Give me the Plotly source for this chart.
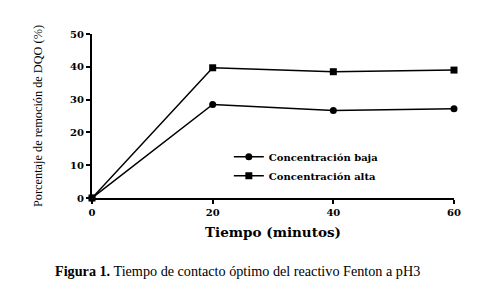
import plotly.graph_objects as go

tiempo = [0, 20, 40, 60]
baja = [0, 28.5, 26.7, 27.2]
alta = [0, 39.7, 38.5, 39.0]
x_ticks = [0, 20, 40, 60]
y_ticks = [0, 10, 20, 30, 40, 50]

serif = "Liberation Serif, Times New Roman, serif"
wide = "DejaVu Serif, serif"

fig = go.Figure()
fig.add_trace(go.Scatter(x=tiempo, y=baja, mode="lines+markers", name="Concentración baja",
                         line=dict(color="black", width=1.5),
                         marker=dict(symbol="circle", size=7, color="black"), cliponaxis=False))
fig.add_trace(go.Scatter(x=tiempo, y=alta, mode="lines+markers", name="Concentración alta",
                         line=dict(color="black", width=1.5),
                         marker=dict(symbol="square", size=7, color="black"), cliponaxis=False))

fig.update_layout(
    template="simple_white",
    width=486, height=301,
    margin=dict(l=84, r=40, t=26, b=111),
    paper_bgcolor="white", plot_bgcolor="white",
    font=dict(family=serif, color="black"),
    showlegend=True,
    legend=dict(x=0.378, y=0.34, xanchor="left", yanchor="top",
                font=dict(family=wide, size=10, color="black", weight="bold"),
                bgcolor="rgba(0,0,0,0)", itemwidth=30, tracegroupgap=0),
    xaxis=dict(range=[0, 60], tickvals=x_ticks, showgrid=False, zeroline=False,
               automargin=False,
               showline=True, linecolor="black", linewidth=2,
               ticks="outside", ticklen=4, tickwidth=2, tickcolor="black",
               tickfont=dict(family=wide, size=10, weight="bold", color="black"),
               title=dict(text="Tiempo (minutos)", font=dict(family=wide, size=13.5, weight="bold", color="black"), standoff=11)),
    yaxis=dict(range=[0, 50], tickvals=y_ticks, showgrid=False, zeroline=False,
               automargin=False,
               showline=True, linecolor="black", linewidth=2,
               ticks="outside", ticklen=4, tickwidth=2, tickcolor="black",
               tickfont=dict(family=wide, size=10, weight="bold", color="black"),
               title=dict(text="Porcentaje de remoción de DQO (%)", font=dict(family=serif, size=12.3, color="black"), standoff=25)),
    annotations=[dict(text="<b>Figura 1.</b> Tiempo de contacto óptimo del reactivo Fenton a pH3",
                      xref="paper", yref="paper", x=0.403, y=-0.445, xanchor="center", yanchor="middle",
                      showarrow=False, font=dict(family=serif, size=14.2, color="black"))],
)

fig.write_html("out.html")
